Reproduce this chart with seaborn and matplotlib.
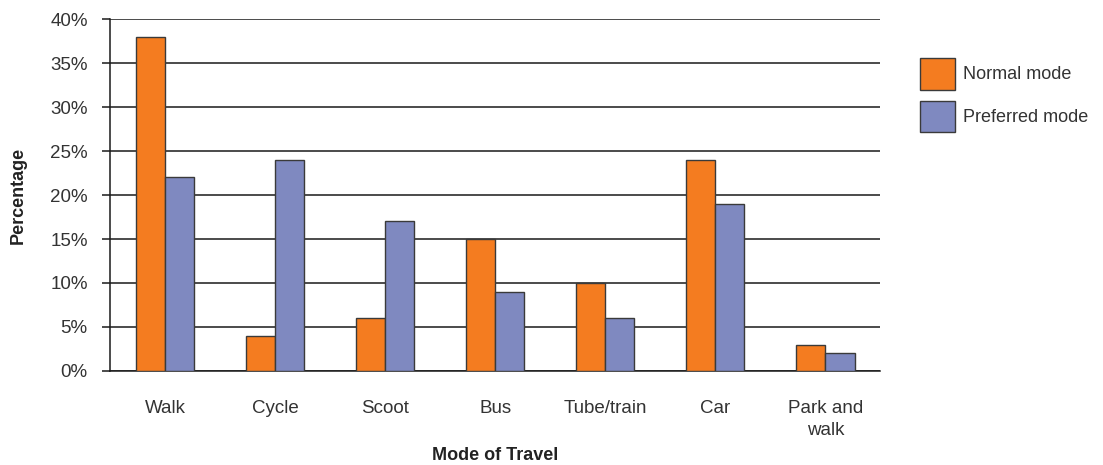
import matplotlib
matplotlib.use("Agg")
import matplotlib.pyplot as plt
from matplotlib.ticker import FuncFormatter, MultipleLocator
import seaborn as sns
import pandas as pd

# Travel mode survey: share of respondents per mode
modes = ["Walk", "Cycle", "Scoot", "Bus", "Tube/train", "Car", "Park and\nwalk"]
normal_mode = [38, 4, 6, 15, 10, 24, 3]
preferred_mode = [22, 24, 17, 9, 6, 19, 2]
series_names = ["Normal mode", "Preferred mode"]
series_colors = ["#F47C20", "#7F89C0"]

df = pd.DataFrame({
    "Mode": modes * 2,
    "Percentage": normal_mode + preferred_mode,
    "Series": [series_names[0]] * len(modes) + [series_names[1]] * len(modes),
})

sns.set_theme(style="white")
plt.rcParams["font.family"] = ["Liberation Sans", "DejaVu Sans"]

fig = plt.figure(figsize=(11.03, 4.65), dpi=100)
ax = fig.add_axes([0.0997, 0.2022, 0.6985, 0.7568])

sns.barplot(
    data=df, x="Mode", y="Percentage", hue="Series",
    palette=series_colors, width=0.53, edgecolor="#3a3a3a", linewidth=1.0,
    saturation=1, ax=ax, zorder=3,
)

ax.set_ylim(0, 40)
ax.set_xlim(-0.5, len(modes) - 0.5)
ax.yaxis.set_major_locator(MultipleLocator(5))
ax.yaxis.set_major_formatter(FuncFormatter(lambda v, _: f"{v:.0f}%"))
ax.yaxis.grid(True, color="#1a1a1a", linewidth=1.1, zorder=0)
ax.set_axisbelow(True)

for side in ("top", "right"):
    ax.spines[side].set_visible(False)
for side in ("left", "bottom"):
    ax.spines[side].set_color("#1a1a1a")
    ax.spines[side].set_linewidth(1.1)

ax.tick_params(axis="y", direction="out", length=6, width=1.1, color="#1a1a1a",
               labelsize=13.5, labelcolor="#333333", pad=10, left=True)
ax.tick_params(axis="x", length=0, labelsize=13.5, labelcolor="#333333", pad=21)
for lbl in ax.get_xticklabels():
    lbl.set_horizontalalignment("center")
    lbl.set_multialignment("center")
    lbl.set_linespacing(1.35)

ax.set_xlabel("Mode of Travel", fontsize=13, fontweight="bold", color="#222222", labelpad=6)
ax.set_ylabel("Percentage", fontsize=13, fontweight="bold", color="#222222", labelpad=17)

leg = ax.legend(
    loc="upper left", bbox_to_anchor=(1.03, 0.935), frameon=False,
    handlelength=1.95, handleheight=2.3, handletextpad=0.45, labelspacing=0.62,
    fontsize=13, labelcolor="#333333",
)
for h in leg.legend_handles:
    h.set_edgecolor("#3a3a3a")
    h.set_linewidth(1.0)

fig.savefig("out.png", dpi=100)
